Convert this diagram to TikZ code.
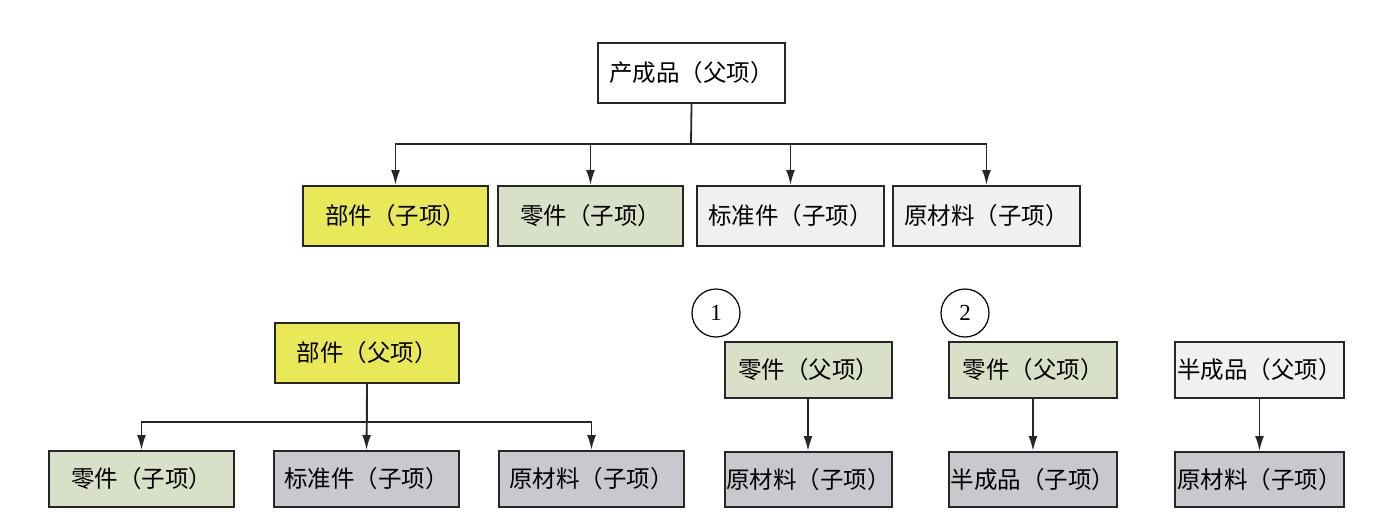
\documentclass[tikz,border=0pt]{standalone}
\usepackage{fontspec}
\newfontfamily\cjk{Noto Sans CJK SC}
\setmainfont{Liberation Serif}
\usetikzlibrary{arrows.meta}
\definecolor{cyel}{HTML}{E8E858}
\definecolor{cgrn}{HTML}{D8E0C8}
\definecolor{clgt}{HTML}{F0F0F0}
\definecolor{cgry}{HTML}{C8C9CE}
\definecolor{cwht}{HTML}{FFFFFF}
\tikzset{
  bx/.style={draw=black!85, line width=2pt, inner sep=0pt, font=\cjk\fontsize{23.5}{27}\selectfont},
  conn/.style={line width=1.8pt, draw=black!85},
  arr/.style={conn, -{Latex[length=15pt,width=9pt]}},
  num/.style={circle, draw=black, line width=1.2pt, minimum size=48pt, inner sep=0pt, font=\fontsize{23}{25}\selectfont}
}
\newcommand{\bxat}[7]{% name, x1, y1, x2, y2, fill, text
  \node[bx, fill=#6, minimum width={#4-#2}, minimum height={#5-#3}] (#1) at ({(#2+#4)/2},{(#3+#5)/2}) {#7};}
\begin{document}
\begin{tikzpicture}[x=1pt,y=-1pt]
\useasboundingbox (0,0) rectangle (1400,528);
% top tree
\bxat{p}{598}{43}{785}{103}{cwht}{产成品（父项）}
\bxat{a1}{303}{186}{488}{246}{cyel}{部件（子项）}
\bxat{a2}{498}{186}{683}{246}{cgrn}{零件（子项）}
\bxat{a3}{697}{186}{884}{246}{clgt}{标准件（子项）}
\bxat{a4}{893}{186}{1080}{246}{clgt}{原材料（子项）}
\coordinate (pj) at (691,144);
\draw[conn] (p.south) -- (pj);
\draw[arr] (pj) -| (a1.north);
\draw[arr] (pj) -| (a2.north);
\draw[arr] (pj) -| (a3.north);
\draw[arr] (pj) -| (a4.north);
% bottom-left tree
\bxat{q}{275}{323}{459}{383}{cyel}{部件（父项）}
\bxat{b1}{49}{451}{234}{507}{cgrn}{零件（子项）}
\bxat{b2}{274}{451}{459}{507}{cgry}{标准件（子项）}
\bxat{b3}{499}{451}{684}{507}{cgry}{原材料（子项）}
\coordinate (qj) at (367,422);
\draw[conn] (q.south) -- (qj);
\draw[arr] (qj) -| (b1.north);
\draw[arr] (q.south) -- (b2.north);
\draw[arr] (qj) -| (b3.north);
% (1)
\node[num] (n1) at (716,313) {1};
\bxat{c1}{725}{342}{892}{398}{cgrn}{零件（父项）}
\bxat{c2}{725}{452}{892}{507}{cgry}{原材料（子项）}
\draw[arr] ([xshift=-0.5pt]c1.south) -- ([xshift=-0.5pt]c2.north);
% (2)
\node[num] (n2) at (965,313) {2};
\bxat{d1}{949}{342}{1117}{398}{cgrn}{零件（父项）}
\bxat{d2}{949}{452}{1117}{507}{cgry}{半成品（子项）}
\draw[arr] (d1.south) -- (d2.north);
% (3)
\bxat{e1}{1175}{342}{1344}{398}{clgt}{半成品（父项）}
\bxat{e2}{1175}{452}{1344}{507}{cgry}{原材料（子项）}
\draw[arr] (e1.south) -- (e2.north);
\end{tikzpicture}
\end{document}
